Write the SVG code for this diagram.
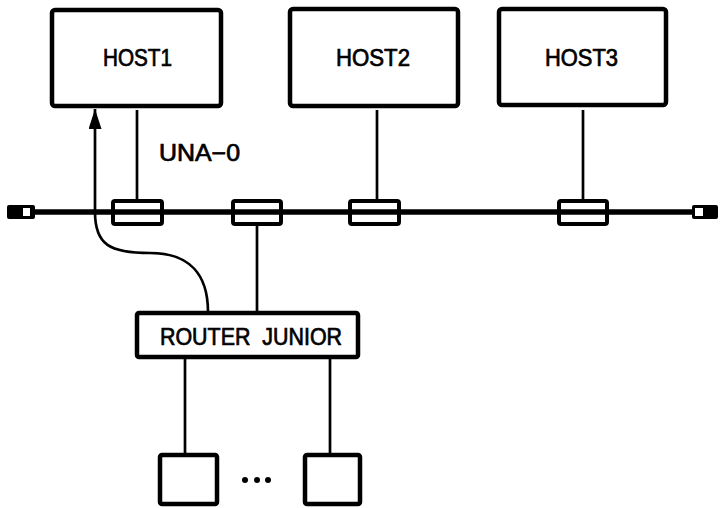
<svg xmlns="http://www.w3.org/2000/svg" width="720" height="508" viewBox="0 0 720 508">
<defs>
<style>
.box{fill:#fff;stroke:#000;stroke-width:4.5}
.ln{fill:none;stroke:#000;stroke-width:2.7}
.lbl{font-family:"Liberation Sans",Arial,sans-serif;font-size:23px;fill:#000;stroke:#000;stroke-width:0.7}
.tap{fill:#fff;stroke:#000;stroke-width:4}
</style>
<marker id="ah" markerWidth="20" markerHeight="13" refX="20" refY="6.5" orient="auto" markerUnits="userSpaceOnUse" viewBox="0 0 20 13">
<path d="M20,6.5 L0,0 L0,13 Z" fill="#000"/>
</marker>
</defs>
<rect width="720" height="508" fill="#fff"/>
<g id="connectors">
<line class="ln" x1="137" y1="110" x2="137" y2="200"/>
<line class="ln" x1="377" y1="110" x2="377" y2="200"/>
<line class="ln" x1="583" y1="110" x2="583" y2="200"/>
<line class="ln" x1="257" y1="224" x2="257" y2="312"/>
<line class="ln" x1="185" y1="358" x2="185" y2="455"/>
<line class="ln" x1="330" y1="358" x2="330" y2="455"/>
<path class="ln" d="M208,312 C208,275 190,253 150,253 C110,253 95,245 95,212 L95,109" marker-end="url(#ah)"/>
</g>
<g id="bus">
<line x1="20" y1="212" x2="705" y2="212" stroke="#000" stroke-width="5.5"/>
<rect x="7" y="205" width="28" height="14" rx="2" fill="#000"/>
<rect x="23" y="208" width="7" height="8" fill="#fff"/>
<rect x="692" y="205" width="26" height="14" rx="2" fill="#000"/>
<rect x="695" y="208" width="8" height="8" fill="#fff"/>
</g>
<g id="tap1"><rect class="tap" x="113" y="201" width="49" height="23" rx="2"/><line x1="111" y1="212" x2="164" y2="212" stroke="#000" stroke-width="5.5"/></g>
<g id="tap2"><rect class="tap" x="233" y="201" width="48" height="23" rx="2"/><line x1="231" y1="212" x2="283" y2="212" stroke="#000" stroke-width="5.5"/></g>
<g id="tap3"><rect class="tap" x="350" y="201" width="49" height="23" rx="2"/><line x1="348" y1="212" x2="401" y2="212" stroke="#000" stroke-width="5.5"/></g>
<g id="tap4"><rect class="tap" x="559" y="201" width="48" height="23" rx="2"/><line x1="557" y1="212" x2="609" y2="212" stroke="#000" stroke-width="5.5"/></g>
<g id="host1"><rect class="box" x="52" y="10" width="169" height="96" rx="3"/><text class="lbl" x="103" y="66" textLength="69" lengthAdjust="spacingAndGlyphs">HOST1</text></g>
<g id="host2"><rect class="box" x="290" y="9" width="168" height="97" rx="3"/><text class="lbl" x="336" y="66" textLength="74" lengthAdjust="spacingAndGlyphs">HOST2</text></g>
<g id="host3"><rect class="box" x="499" y="9" width="167" height="96" rx="3"/><text class="lbl" x="545" y="66" textLength="73" lengthAdjust="spacingAndGlyphs">HOST3</text></g>
<text class="lbl" x="159" y="161" textLength="81" lengthAdjust="spacingAndGlyphs">UNA−0</text>
<g id="router"><rect class="box" x="137" y="313" width="221" height="44" rx="2"/><text class="lbl" x="160" y="345" textLength="182" lengthAdjust="spacingAndGlyphs" xml:space="preserve">ROUTER  JUNIOR</text></g>
<g id="dev1"><rect class="box" x="160" y="455" width="57" height="49" rx="2"/></g>
<g id="dev2"><rect class="box" x="305" y="455" width="55" height="49" rx="2"/></g>
<g id="dots" fill="#000"><circle cx="245" cy="480" r="3"/><circle cx="257" cy="480" r="3"/><circle cx="268" cy="480" r="3"/></g>
</svg>
